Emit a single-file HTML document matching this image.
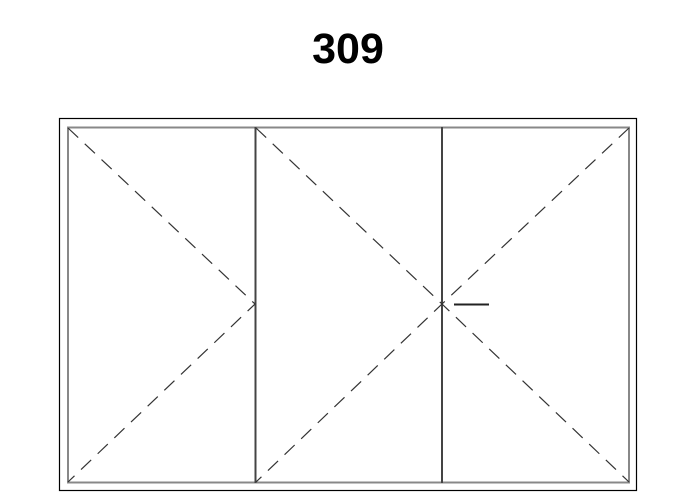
<!DOCTYPE html>
<html><head><style>
html,body{margin:0;padding:0;background:#fff;width:697px;height:492px;overflow:hidden}
svg{display:block}
</style></head><body>
<svg width="697" height="492" viewBox="0 0 697 492" xmlns="http://www.w3.org/2000/svg">
<text x="348" y="63" text-anchor="middle" font-family="Liberation Sans, sans-serif" font-weight="bold" font-size="43" fill="#000">309</text>
<rect x="59.5" y="118.5" width="577" height="372" fill="none" stroke="#000" stroke-width="1.2"/>
<rect x="68" y="127.5" width="561" height="355" fill="none" stroke="#888" stroke-width="2"/>
<line x1="255.5" y1="127" x2="255.5" y2="483" stroke="#444" stroke-width="2"/>
<line x1="442" y1="127" x2="442" y2="483" stroke="#444" stroke-width="2"/>
<g stroke="#333" stroke-width="1.2" stroke-dasharray="14,9" fill="none">
<polyline points="68,128 255,304 68,482"/>
<polyline points="256,128 442,304 256,482"/>
<polyline points="629,128 442,304 629,482"/>
</g>
<line x1="454" y1="304.5" x2="489" y2="304.5" stroke="#222" stroke-width="2"/>
</svg>
</body></html>
